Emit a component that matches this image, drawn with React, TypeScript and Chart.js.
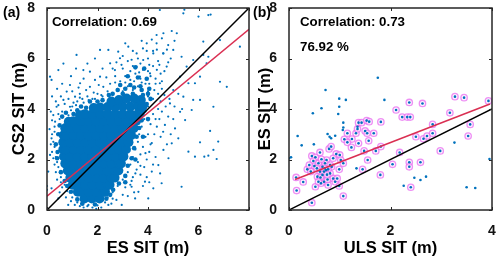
import React, { useEffect, useRef } from 'react';
import { Chart, registerables } from 'chart.js';

Chart.register(...registerables);

const FONT = '"Liberation Sans", Arial, Helvetica, sans-serif';
const AXIS_COLOR = '#262626';
const BLUE = '#0072BD';
const RED = '#DA2F52';

// ---------- Panel (a): CS2 SIT vs ES SIT ----------
const aAxisTicks = [0, 2, 4, 6, 8];
const aRefX = [0, 8];
const aRefY = [0, 8];
const aFitX = [0, 8];
const aFitY = [0.55, 7.16];

// dense core of the cloud (drawn with large dots)
const aCorePoints: number[][] = [
  [1.48, 0.45], [1.78, 0.45], [2.08, 0.45],
  [1.22, 0.72], [1.35, 0.72], [1.65, 0.72], [1.95, 0.72], [2.25, 0.72], [2.3, 0.72],
  [1.02, 1.0], [1.2, 1.0], [1.5, 1.0], [1.8, 1.0], [2.1, 1.0], [2.4, 1.0], [2.48, 1.0],
  [0.92, 1.28], [1.05, 1.28], [1.35, 1.28], [1.65, 1.28], [1.95, 1.28], [2.25, 1.28], [2.55, 1.28], [2.68, 1.28],
  [0.82, 1.56], [0.9, 1.56], [1.2, 1.56], [1.5, 1.56], [1.8, 1.56], [2.1, 1.56], [2.4, 1.56], [2.7, 1.56], [2.83, 1.56],
  [0.72, 1.84], [0.75, 1.84], [1.05, 1.84], [1.35, 1.84], [1.65, 1.84], [1.95, 1.84], [2.25, 1.84], [2.55, 1.84], [2.85, 1.84], [2.93, 1.84],
  [0.67, 2.12], [0.9, 2.12], [1.2, 2.12], [1.5, 2.12], [1.8, 2.12], [2.1, 2.12], [2.4, 2.12], [2.7, 2.12], [3.0, 2.12], [3.03, 2.12],
  [0.64, 2.4], [0.75, 2.4], [1.05, 2.4], [1.35, 2.4], [1.65, 2.4], [1.95, 2.4], [2.25, 2.4], [2.55, 2.4], [2.85, 2.4], [3.13, 2.4],
  [0.64, 2.68], [0.9, 2.68], [1.2, 2.68], [1.5, 2.68], [1.8, 2.68], [2.1, 2.68], [2.4, 2.68], [2.7, 2.68], [3.0, 2.68], [3.23, 2.68],
  [0.66, 2.96], [0.75, 2.96], [1.05, 2.96], [1.35, 2.96], [1.65, 2.96], [1.95, 2.96], [2.25, 2.96], [2.55, 2.96], [2.85, 2.96], [3.15, 2.96], [3.33, 2.96],
  [0.72, 3.24], [0.9, 3.24], [1.2, 3.24], [1.5, 3.24], [1.8, 3.24], [2.1, 3.24], [2.4, 3.24], [2.7, 3.24], [3.0, 3.24], [3.3, 3.24], [3.43, 3.24],
  [0.86, 3.5], [1.05, 3.52], [1.35, 3.52], [1.65, 3.52], [1.95, 3.52], [2.25, 3.52], [2.55, 3.52], [2.85, 3.52], [3.15, 3.52], [3.45, 3.52], [3.53, 3.52],
  [1.3, 3.76], [1.5, 3.8], [1.8, 3.8], [2.1, 3.8], [2.4, 3.8], [2.7, 3.8], [3.0, 3.8], [3.3, 3.8], [3.6, 3.8], [3.68, 3.82],
  [1.85, 4.04], [2.1, 4.06], [2.4, 4.08], [2.7, 4.08], [3.0, 4.1], [3.3, 4.1], [3.6, 4.12], [3.78, 4.1],
  [2.55, 4.3], [2.85, 4.36], [3.15, 4.42], [3.45, 4.42], [3.72, 4.36],
];

// medium-density edge of the cloud
const aEdgePoints: number[][] = [
  [2.6, 4.6], [3.0, 4.6], [3.4, 4.6], [3.8, 4.55], [4.1, 4.4], [2.9, 4.95], [3.3, 4.95], [3.7, 4.9],
  [4.05, 4.8], [3.2, 5.3], [3.6, 5.25], [3.95, 5.2], [3.5, 5.65], [3.85, 5.6], [1.7, 4.3], [1.35, 4.1],
  [0.75, 3.85], [0.5, 3.35], [0.35, 2.6], [0.4, 2.05], [0.55, 1.5], [0.7, 1.15], [0.95, 0.72], [1.2, 0.42],
  [2.35, 0.45], [2.62, 0.8], [2.85, 1.05], [3.1, 1.35], [3.2, 1.75], [3.35, 2.05], [3.45, 2.45], [3.55, 2.9],
  [3.65, 3.25], [3.75, 3.55], [3.85, 3.95], [3.95, 4.2], [1.05, 3.8], [0.6, 3.7], [0.45, 3.0], [0.42, 2.3],
  [1.4, 0.25], [1.9, 0.22], [2.5, 0.6], [0.8, 0.95], [3.1, 1.1], [3.5, 2.0], [3.8, 2.9], [4.0, 3.6],
  [2.2, 4.35], [2.45, 4.55], [2.8, 4.75], [3.1, 4.8], [3.45, 4.85], [3.75, 4.75], [4.0, 4.6], [1.55, 4.05],
  [1.2, 3.95], [2.0, 4.3],
];

// scattered single points
const aSparsePoints: number[][] = [
  [6.39, 7.72], [5.4, 7.79], [6.0, 7.66], [4.47, 7.92], [5.44, 7.93], [6.48, 7.74], [4.94, 7.09], [4.34, 6.93],
  [4.61, 7.0], [5.14, 7.0], [6.85, 6.73], [7.64, 6.47], [6.19, 6.67], [6.19, 6.14], [6.39, 6.07], [6.85, 5.08],
  [7.12, 4.88], [6.59, 4.09], [5.73, 3.96], [5.79, 4.36], [5.86, 5.02],
  [0.12, 5.28], [0.18, 5.15], [0.45, 5.54], [1.17, 6.14], [2.1, 6.34], [2.43, 6.34], [3.22, 6.47], [2.82, 6.27],
  [1.44, 5.54], [1.7, 5.48], [1.31, 5.02], [0.91, 4.95], [0.78, 4.69], [1.11, 4.49], [0.65, 4.36], [0.38, 4.09],
  [0.91, 4.09], [0.25, 3.76], [0.58, 3.7], [2.1, 5.28], [2.5, 5.81], [2.69, 5.54], [2.89, 6.01], [2.23, 4.88],
  [1.7, 4.88], [1.9, 5.15],
  [3.95, 6.6], [4.34, 6.6], [4.8, 6.53], [4.61, 6.2], [5.0, 6.34], [5.33, 6.07], [5.53, 5.68], [5.27, 5.28],
  [5.6, 5.02], [6.06, 5.28], [6.32, 5.81], [5.79, 5.94], [4.74, 5.68], [4.21, 6.2], [3.81, 5.94], [3.55, 5.68],
  [3.68, 5.28], [4.08, 5.41], [4.47, 5.02], [5.0, 4.75], [5.4, 4.49], [6.06, 4.36], [4.87, 4.22],
  [6.46, 3.13], [6.06, 2.68], [6.78, 2.71], [6.59, 2.38], [6.39, 2.15], [5.86, 2.11], [6.23, 2.11], [6.72, 2.02],
  [5.33, 0.92], [5.6, 2.31], [5.47, 3.56], [5.27, 3.89], [4.67, 3.37], [5.07, 3.23], [5.2, 2.84], [4.94, 2.64],
  [4.61, 2.38], [4.81, 2.05], [4.41, 1.78], [4.48, 1.45], [4.15, 1.52], [3.88, 1.12], [3.62, 0.72], [3.49, 0.46],
  [2.96, 0.2], [3.35, 0.92], [4.21, 0.86], [4.54, 1.06], [4.01, 0.46], [2.43, 0.2], [1.64, 0.2], [0.84, 0.2],
  [0.45, 0.46], [0.18, 0.86], [0.05, 1.52], [0.12, 2.18], [0.18, 2.84], [0.32, 3.5], [0.0, 0.8], [0.0, 0.95],
  [0.3, 2.5], [0.35, 2.1], [0.4, 3.0], [0.3, 3.3], [0.45, 1.7], [0.55, 1.3], [0.4, 1.9], [0.25, 2.7],
  [0.5, 3.6], [0.6, 3.9], [0.7, 1.0], [0.8, 0.75], [0.35, 1.5], [0.2, 2.3], [0.45, 3.8], [0.55, 1.1],
  [1.0, 0.5], [1.2, 0.3], [1.6, 0.15], [2.0, 0.18], [2.4, 0.5], [2.6, 0.7], [1.3, 0.15], [0.9, 0.7],
  [2.3, 0.3], [1.8, 0.1], [2.8, 0.95], [3.0, 1.2], [3.2, 1.5], [3.3, 1.8], [3.4, 2.1], [3.5, 2.4],
  [3.6, 2.7], [3.65, 3.0], [3.75, 3.3], [3.85, 3.6], [3.9, 3.9], [4.0, 4.1], [3.1, 0.9], [3.4, 1.3],
  [3.6, 1.9], [3.8, 2.5], [3.9, 2.9], [4.1, 3.4], [3.0, 0.6], [3.3, 1.0], [3.55, 1.6], [3.7, 2.2],
  [4.0, 3.0], [4.2, 3.8], [1.0, 4.1], [1.2, 4.3], [1.4, 4.4], [1.6, 4.5], [1.8, 4.4], [2.0, 4.6],
  [2.2, 4.5], [2.4, 4.7], [2.6, 4.6], [2.8, 4.8], [3.0, 4.7], [3.2, 4.9], [3.4, 4.75], [3.6, 4.9],
  [3.8, 4.6], [4.0, 4.5], [4.2, 4.4], [4.4, 4.6], [2.5, 5.0], [2.9, 5.1], [3.1, 5.3], [3.3, 5.15],
  [3.5, 5.4], [3.7, 5.2], [3.9, 5.0], [4.1, 5.3], [4.3, 5.0], [2.7, 5.3], [3.0, 5.6], [3.4, 5.7],
  [3.8, 5.55], [4.2, 5.7], [4.5, 5.4], [3.2, 5.9], [3.6, 6.0], [4.0, 6.0], [4.4, 5.9], [3.4, 6.3],
  [3.8, 6.4], [4.2, 6.3], [4.6, 6.2], [1.3, 4.6], [1.55, 4.75], [1.85, 4.65], [2.05, 4.95], [1.45, 5.2],
  [2.35, 5.25], [2.6, 5.6], [3.0, 6.1], [2.75, 5.85], [2.2, 5.6],
  [3.7, 1.4], [3.85, 1.7], [3.95, 2.0], [4.05, 2.3], [4.15, 2.65], [4.25, 3.0], [4.35, 3.3], [4.3, 2.1],
  [4.2, 1.8], [3.95, 1.3], [4.5, 2.9], [4.6, 3.1], [4.45, 3.6], [4.55, 3.9], [4.7, 4.1], [4.4, 4.0],
  [4.8, 3.7], [4.9, 3.0], [4.75, 2.6], [4.05, 1.1], [3.8, 0.95], [3.45, 0.7], [3.2, 0.55], [2.75, 0.4],
  [2.55, 0.25], [3.35, 1.15], [3.5, 1.45], [3.7, 1.75], [3.9, 2.25], [4.1, 2.6], [4.3, 3.6], [4.5, 4.3],
  [4.65, 4.55], [4.85, 4.4], [5.05, 4.1], [5.0, 3.6], [5.2, 4.6], [5.35, 4.0],
  [0.35, 4.3], [0.55, 4.5], [0.7, 4.2], [0.85, 4.4], [1.0, 4.7], [1.25, 4.85], [0.6, 5.0], [0.4, 4.8],
  [0.2, 4.5], [0.15, 3.9], [0.1, 3.2], [0.2, 3.55], [0.45, 4.15], [0.95, 5.3], [1.15, 5.6], [1.6, 5.8],
  [1.9, 6.0], [0.65, 5.8], [1.05, 4.25], [1.3, 4.45],
  [3.1, 5.05], [3.45, 5.1], [3.75, 5.05], [4.05, 5.0], [4.3, 5.2], [4.55, 5.1], [4.65, 5.5], [4.35, 5.55],
  [4.0, 5.5], [3.65, 5.45], [3.3, 5.5], [3.35, 5.95], [3.7, 5.8], [4.05, 5.75], [4.45, 5.75], [4.8, 5.85],
  [4.9, 6.0], [3.55, 6.2], [3.95, 6.3], [4.35, 6.35], [4.75, 6.35], [3.75, 6.7], [4.15, 6.75], [4.55, 6.8],
  [5.05, 6.7], [3.1, 6.6], [2.95, 5.75], [2.7, 5.05], [3.0, 4.4], [3.35, 4.4], [3.7, 4.35], [4.0, 4.7],
  [4.25, 4.75], [4.55, 4.8], [2.5, 4.4],
  [0.95, 0.35], [1.1, 0.2], [1.45, 0.1], [2.15, 0.1], [2.6, 0.45], [0.6, 0.9], [0.4, 1.2], [0.3, 1.8],
  [0.25, 2.05], [0.2, 3.0], [0.3, 3.1], [0.15, 2.6], [0.5, 0.7], [0.75, 0.5], [1.35, 0.25], [1.95, 0.05],
  [0.85, 3.75], [0.95, 3.95], [1.15, 4.15], [1.45, 4.25], [1.65, 4.35], [1.9, 4.4], [2.15, 4.55], [1.05, 3.85],
];

// ---------- Panel (b): ES SIT vs ULS SIT ----------
const bXTicks = [0, 2, 4];
const bYTicks = [0, 2, 4, 6, 8];
const bRefX = [0, 4];
const bRefY = [0, 4];
const bFitX = [0.12, 3.96];
const bFitY = [1.21, 4.2];

const bRingedPoints: number[][] = [
  [1.37, 3.46], [1.43, 3.46], [1.53, 3.54], [1.58, 3.5], [1.81, 3.49], [2.11, 3.96], [2.23, 3.68], [2.33, 3.68],
  [2.39, 3.68], [2.37, 4.26], [2.63, 4.22], [2.83, 3.39], [3.17, 3.85], [3.27, 4.49], [3.45, 4.45], [3.57, 3.39],
  [3.93, 4.32],
  [1.09, 2.8], [1.15, 3.04], [1.32, 3.04], [1.35, 3.21], [1.5, 3.13], [1.54, 3.04], [1.67, 3.04], [1.24, 2.81],
  [1.15, 2.68], [1.37, 2.64], [1.23, 2.48], [1.57, 2.74], [1.48, 2.34], [1.71, 2.34], [1.55, 1.98], [1.81, 2.51],
  [2.18, 2.28], [2.04, 1.81], [2.37, 1.89], [2.37, 1.71], [2.59, 1.89], [1.8, 1.39], [2.4, 0.9], [2.5, 2.9],
  [2.65, 2.82], [2.72, 2.93], [2.83, 3.04], [2.98, 2.34], [3.53, 2.93], [1.45, 1.61],
  [0.14, 1.29], [0.15, 0.77], [0.28, 1.11], [0.36, 1.61], [0.45, 0.29], [0.45, 2.14], [0.52, 2.09], [0.48, 1.94],
  [0.5, 1.74], [0.52, 0.92], [0.61, 2.28], [0.74, 1.98], [0.73, 1.58], [0.66, 1.71], [0.66, 1.39], [0.61, 1.52],
  [0.56, 1.32], [0.69, 1.12], [0.77, 0.99], [0.76, 1.21], [0.81, 1.45], [0.84, 1.71], [0.87, 1.25], [0.91, 1.12],
  [0.95, 1.25], [0.79, 2.42], [0.83, 2.51], [0.93, 2.22], [1.0, 2.18], [1.02, 1.98], [1.07, 1.85], [0.99, 1.61],
  [0.99, 0.95], [1.07, 0.55], [0.58, 1.85], [0.71, 1.85], [0.62, 1.29], [0.55, 1.65], [0.43, 1.52], [0.4, 1.78],
  [0.87, 2.05], [0.64, 2.01], [0.69, 1.52], [0.77, 1.61], [0.81, 1.78], [0.63, 1.06], [0.58, 1.12], [0.7, 1.65],
  [0.75, 1.4],
];

const bBlueOnlyPoints: number[][] = [
  [0.47, 3.83], [0.72, 4.75], [0.64, 4.03], [0.99, 4.41], [1.12, 4.36], [0.99, 4.09], [0.97, 3.8], [1.75, 5.24],
  [1.88, 4.36], [1.07, 3.46], [1.06, 3.17], [1.35, 3.3], [0.76, 3.01], [0.17, 2.93], [0.25, 2.56], [0.04, 2.09],
  [0.49, 2.6], [0.83, 2.84], [0.91, 2.94], [1.07, 3.27], [0.8, 2.9], [2.26, 0.96], [2.47, 1.28], [2.59, 1.19],
  [2.7, 1.32], [3.26, 2.67], [3.5, 0.9], [3.67, 0.87], [3.95, 2.02], [1.33, 1.65], [0.0, 2.05],
];

const toXY = (pts: number[][]) => pts.map(([x, y]) => ({ x, y }));
const lineXY = (xs: number[], ys: number[]) => xs.map((x, i) => ({ x, y: ys[i] }));

const decorPlugin = {
  id: 'decor',
  afterDraw(chart: any, _args: any, opts: any) {
    const { ctx, chartArea } = chart;
    const { left, right, top, bottom } = chartArea;
    const xs = chart.scales.x;
    const ys = chart.scales.y;
    ctx.save();
    ctx.strokeStyle = AXIS_COLOR;
    ctx.lineWidth = 1;
    const tl = 3;
    ctx.beginPath();
    xs.ticks.forEach((t: any) => {
      const px = Math.round(xs.getPixelForValue(t.value)) + 0.5;
      ctx.moveTo(px, bottom); ctx.lineTo(px, bottom - tl);
      ctx.moveTo(px, top); ctx.lineTo(px, top + tl);
    });
    ys.ticks.forEach((t: any) => {
      const py = Math.round(ys.getPixelForValue(t.value)) + 0.5;
      ctx.moveTo(left, py); ctx.lineTo(left + tl, py);
      ctx.moveTo(right, py); ctx.lineTo(right - tl, py);
    });
    ctx.stroke();
    ctx.lineWidth = 1.5;
    ctx.strokeRect(left, top, right - left, bottom - top);

    ctx.fillStyle = '#000';
    ctx.textBaseline = 'middle';
    ctx.textAlign = 'center';
    ctx.font = `bold 16.5px ${FONT}`;
    ctx.fillText(opts.xTitle, (left + right) / 2, bottom + opts.xTitleOffset);
    ctx.save();
    ctx.translate(opts.yTitleX, (top + bottom) / 2);
    ctx.rotate(-Math.PI / 2);
    ctx.fillText(opts.yTitle, 0, 0);
    ctx.restore();

    ctx.textAlign = 'left';
    ctx.font = `bold 14px ${FONT}`;
    ctx.fillText(opts.panel, opts.panelX, 13);
    ctx.font = `bold 13.3px ${FONT}`;
    (opts.notes || []).forEach((n: any) => {
      ctx.fillText(n.text, left + n.dx, top + n.dy);
    });
    ctx.restore();
  },
};

function makeOptions(xMax: number, xTicks: number[], yTicks: number[], yWidth: number, rightPad: number, decor: any) {
  const tickFont = { family: FONT, size: 14, weight: 'bold' as const };
  return {
    responsive: false,
    animation: false as const,
    events: [] as any[],
    layout: { padding: { left: 0, right: rightPad, top: 8, bottom: 0 } },
    plugins: {
      legend: { display: false },
      tooltip: { enabled: false },
      decor,
    },
    scales: {
      x: {
        type: 'linear' as const,
        min: 0,
        max: xMax,
        grid: { display: false },
        border: { display: false },
        afterBuildTicks: (s: any) => { s.ticks = xTicks.map((v) => ({ value: v })); },
        ticks: { font: tickFont, color: '#111', padding: 5, maxRotation: 0 },
        afterFit: (s: any) => { s.height = 49; s.paddingLeft = 0; s.paddingRight = 0; },
      },
      y: {
        type: 'linear' as const,
        min: 0,
        max: 8,
        grid: { display: false },
        border: { display: false },
        afterBuildTicks: (s: any) => { s.ticks = yTicks.map((v) => ({ value: v })); },
        ticks: { font: tickFont, color: '#111', padding: 4 },
        afterFit: (s: any) => { s.width = yWidth; s.paddingTop = 0; s.paddingBottom = 0; },
      },
    },
  };
}

function PanelA() {
  const ref = useRef<HTMLCanvasElement>(null);
  useEffect(() => {
    const chart = new Chart(ref.current!, {
      type: 'scatter',
      plugins: [decorPlugin],
      data: {
        datasets: [
          { data: lineXY(aFitX, aFitY), showLine: true, borderColor: RED, borderWidth: 1.5, pointRadius: 0, order: 0 },
          { data: lineXY(aRefX, aRefY), showLine: true, borderColor: '#000', borderWidth: 1.5, pointRadius: 0, order: 1 },
          { data: toXY(aSparsePoints), pointRadius: 1.1, borderWidth: 0, backgroundColor: BLUE, order: 2 },
          { data: toXY(aEdgePoints), pointRadius: 2.3, borderWidth: 0, backgroundColor: BLUE, order: 3 },
          { data: toXY(aCorePoints), pointRadius: 4.9, borderWidth: 0, backgroundColor: BLUE, order: 4 },
        ],
      },
      options: makeOptions(8, aAxisTicks, aAxisTicks, 47, 7, {
        xTitle: 'ES SIT (m)',
        yTitle: 'CS2 SIT (m)',
        xTitleOffset: 38,
        yTitleX: 19,
        panel: '(a)',
        panelX: 3,
        notes: [{ text: 'Correlation: 0.69', dx: 5, dy: 14 }],
      }) as any,
    });
    return () => chart.destroy();
  }, []);
  return <canvas ref={ref} width={256} height={259} style={{ position: 'absolute', left: 0, top: 0 }} />;
}

function PanelB() {
  const ref = useRef<HTMLCanvasElement>(null);
  useEffect(() => {
    const chart = new Chart(ref.current!, {
      type: 'scatter',
      plugins: [decorPlugin],
      data: {
        datasets: [
          { data: lineXY(bFitX, bFitY), showLine: true, borderColor: RED, borderWidth: 1.5, pointRadius: 0, order: 0 },
          { data: lineXY(bRefX, bRefY), showLine: true, borderColor: '#000', borderWidth: 1.5, pointRadius: 0, order: 1 },
          { data: toXY([...bBlueOnlyPoints, ...bRingedPoints]), pointRadius: 1.3, borderWidth: 0, backgroundColor: BLUE, order: 2 },
          {
            data: toXY(bRingedPoints),
            pointRadius: 3.2,
            borderWidth: 1.3,
            borderColor: 'rgba(232,110,240,0.75)',
            backgroundColor: 'rgba(255,230,255,0.6)',
            order: 3,
          },
        ],
      },
      options: makeOptions(4, bXTicks, bYTicks, 39, 8, {
        xTitle: 'ULS SIT (m)',
        yTitle: 'ES SIT (m)',
        xTitleOffset: 38,
        yTitleX: 15,
        panel: '(b)',
        panelX: 3,
        notes: [
          { text: 'Correlation: 0.73', dx: 11, dy: 14 },
          { text: '76.92 %', dx: 11, dy: 39 },
        ],
      }) as any,
    });
    return () => chart.destroy();
  }, []);
  return <canvas ref={ref} width={250} height={259} style={{ position: 'absolute', left: 250, top: 0 }} />;
}

export default function App() {
  useEffect(() => {
    document.body.style.margin = '0';
  }, []);
  return (
    <div style={{ position: 'relative', width: 500, height: 259, background: '#fff', overflow: 'hidden' }}>
      <PanelA />
      <PanelB />
    </div>
  );
}
